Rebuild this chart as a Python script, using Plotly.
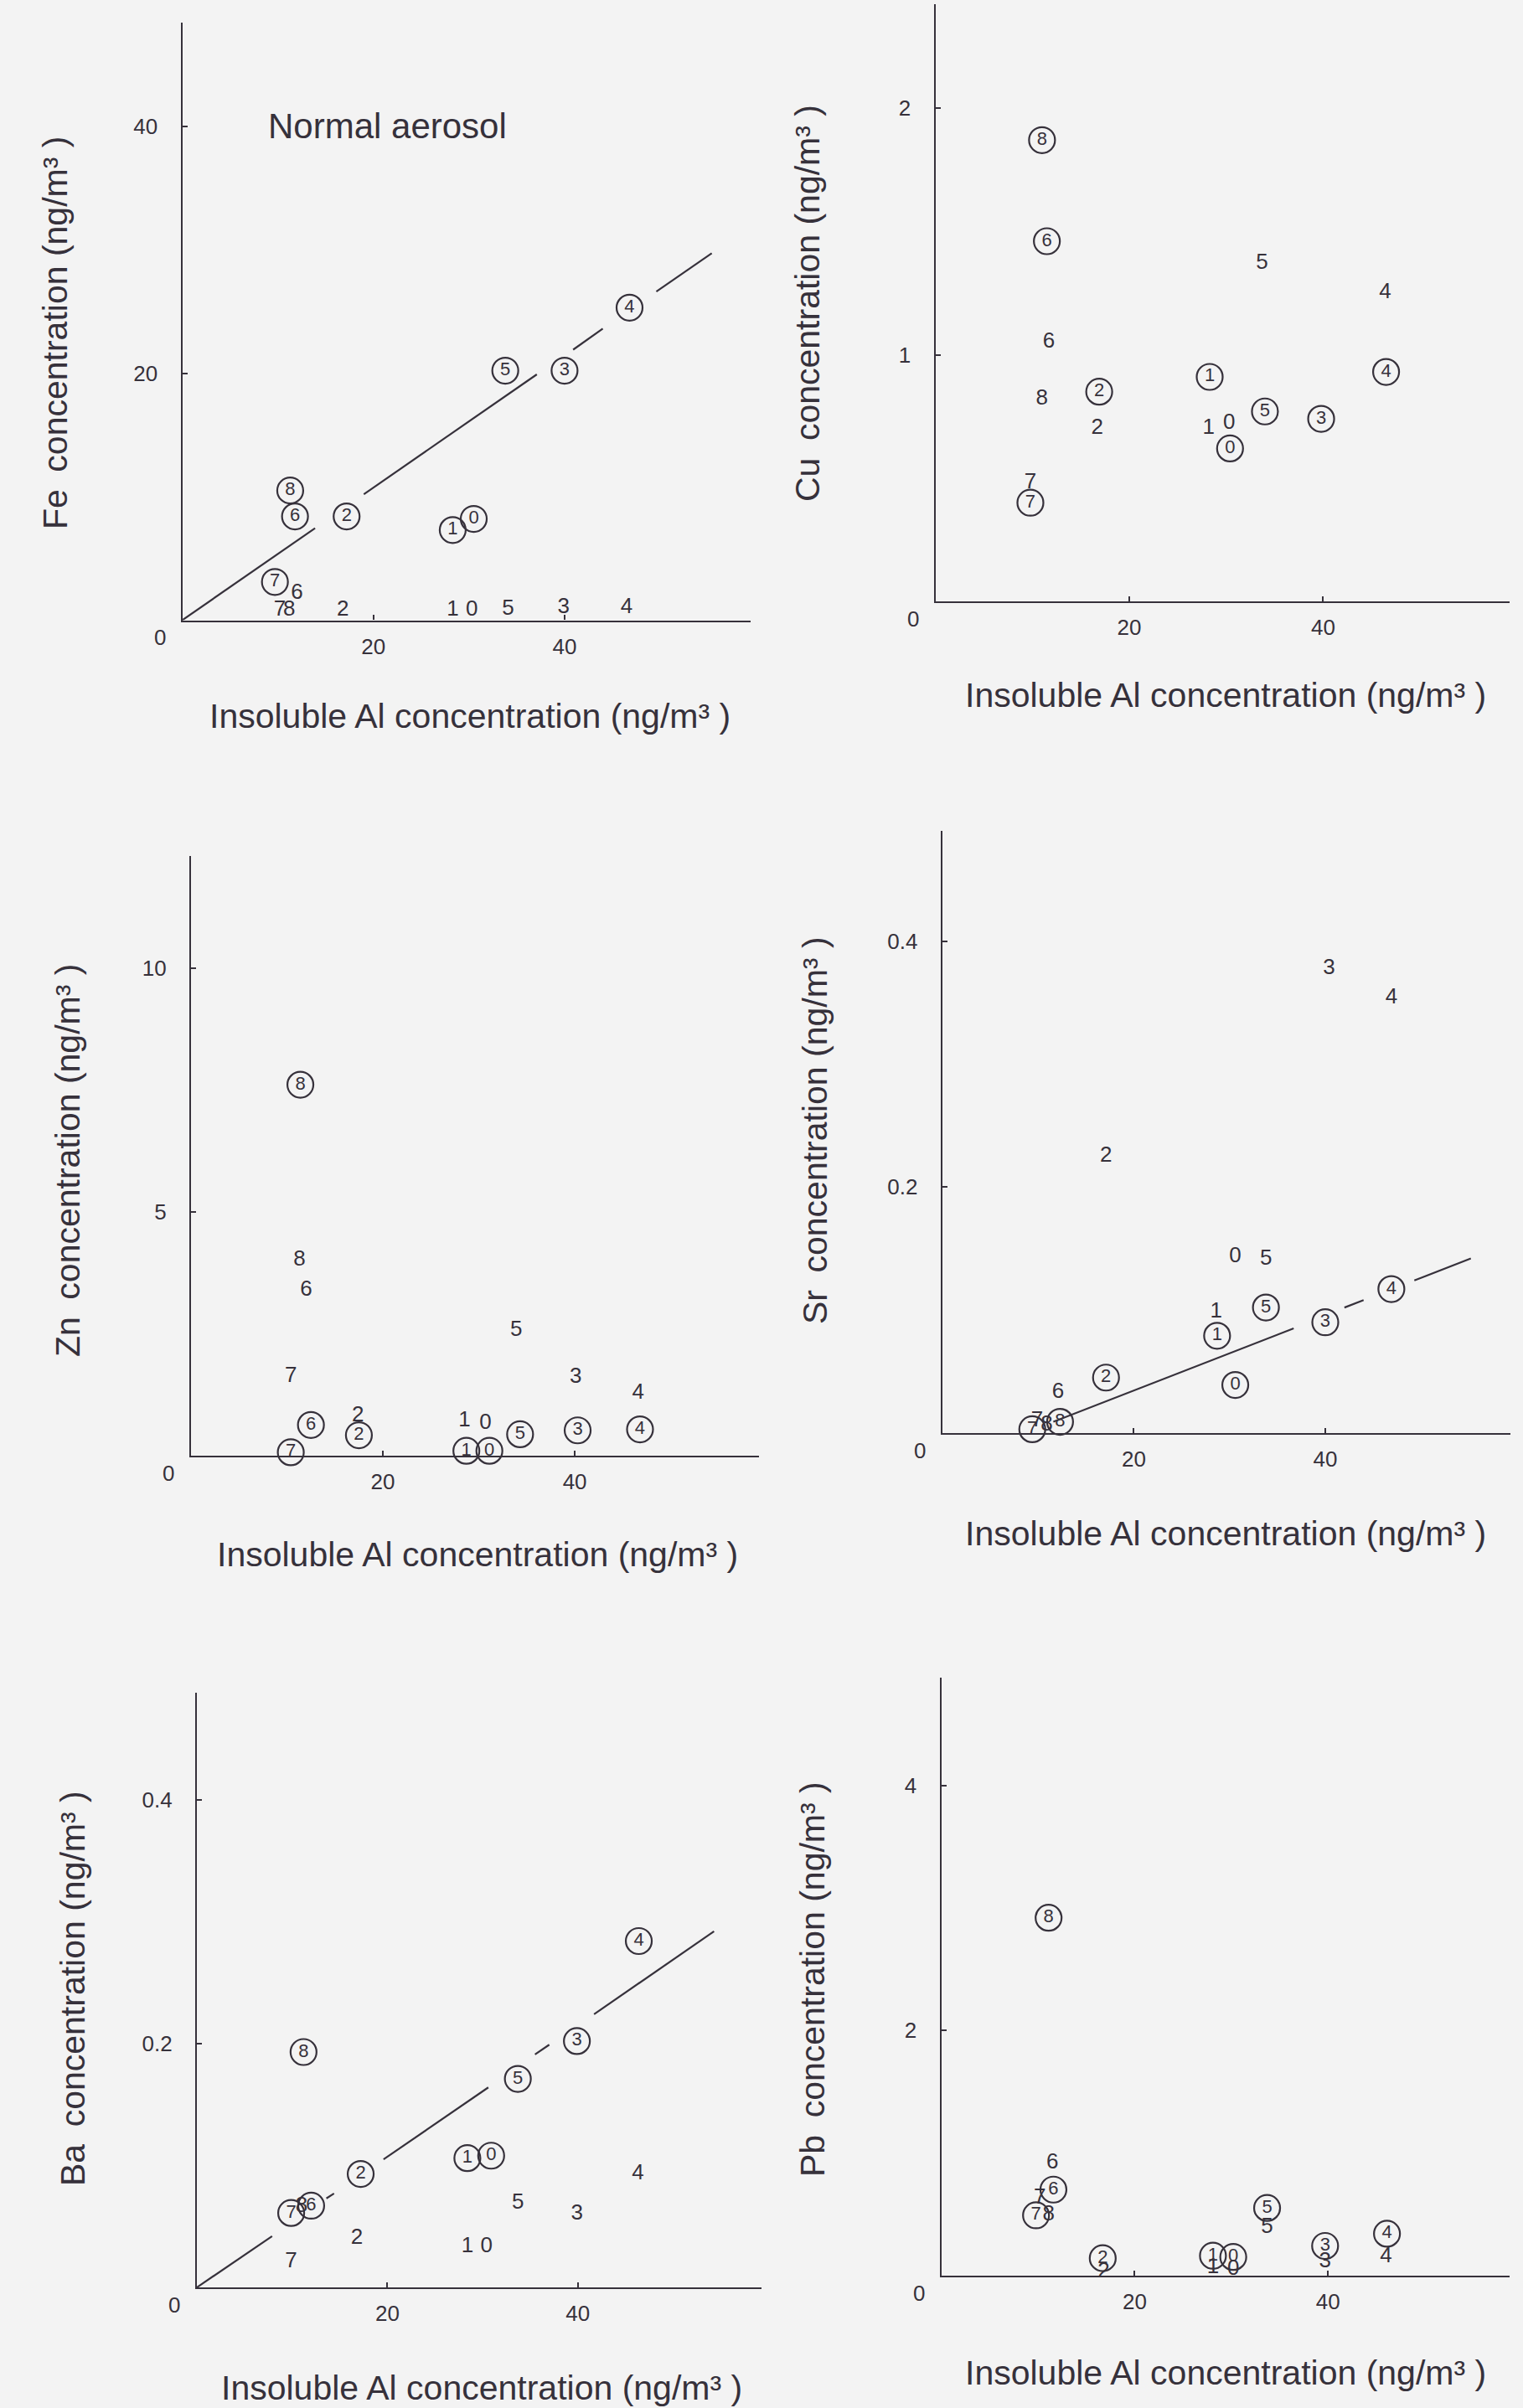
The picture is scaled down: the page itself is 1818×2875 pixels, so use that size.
import plotly.graph_objects as go

W, H = 1818, 2875
INK = "#36313b"
BG = "#f3f3f3"
FONT = "Liberation Sans"

# ---------------- data ----------------
x_tick_vals = [20, 40]
x_title = "Insoluble Al concentration (ng/m\u00b3 )"

# Fe
fe_circ_x = [9.7, 11.8, 11.3, 17.2, 28.3, 30.5, 33.8, 40.0, 46.8]
fe_circ_y = [3.1, 8.4, 10.5, 8.4, 7.3, 8.2, 20.2, 20.2, 25.3]
fe_circ_lbl = ["7", "6", "8", "2", "1", "0", "5", "3", "4"]
fe_plain_x = [12.0, 10.2, 11.2, 16.8, 28.3, 30.3, 34.1, 39.9, 46.5]
fe_plain_y = [2.2, 0.8, 0.8, 0.8, 0.8, 0.8, 0.9, 1.0, 1.0]
fe_plain_lbl = ["6", "7", "8", "2", "1", "0", "5", "3", "4"]
fe_fit_x = [0, 13.9, None, 19.0, 37.1, None, 40.9, 44.0, None, 49.6, 55.4]
fe_fit_y = [0, 7.45, None, 10.2, 19.9, None, 21.9, 23.6, None, 26.6, 29.7]
fe_yticks = [20, 40]

# Cu
cu_circ_x = [11.0, 11.5, 16.9, 28.3, 34.0, 39.8, 46.5, 30.4, 9.8]
cu_circ_y = [1.87, 1.46, 0.85, 0.91, 0.77, 0.74, 0.93, 0.62, 0.40]
cu_circ_lbl = ["8", "6", "2", "1", "5", "3", "4", "0", "7"]
cu_plain_x = [33.7, 46.4, 11.7, 11.0, 16.7, 28.2, 30.3, 9.8]
cu_plain_y = [1.37, 1.25, 1.05, 0.82, 0.70, 0.70, 0.72, 0.48]
cu_plain_lbl = ["5", "4", "6", "8", "2", "1", "0", "7"]
cu_yticks = [1, 2]

# Zn
zn_circ_x = [11.4, 12.5, 17.5, 10.4, 28.7, 31.1, 34.3, 40.3, 46.8]
zn_circ_y = [7.61, 0.63, 0.42, 0.07, 0.1, 0.1, 0.44, 0.52, 0.54]
zn_circ_lbl = ["8", "6", "2", "7", "1", "0", "5", "3", "4"]
zn_plain_x = [11.3, 12.0, 33.9, 10.4, 40.1, 46.6, 17.4, 28.5, 30.7]
zn_plain_y = [4.02, 3.40, 2.57, 1.63, 1.60, 1.28, 0.81, 0.71, 0.66]
zn_plain_lbl = ["8", "6", "5", "7", "3", "4", "2", "1", "0"]
zn_yticks = [5, 10]

# Sr
sr_circ_x = [9.4, 12.3, 17.1, 28.7, 30.6, 33.8, 40.0, 46.9]
sr_circ_y = [0.003, 0.009, 0.045, 0.079, 0.039, 0.102, 0.090, 0.117]
sr_circ_lbl = ["7", "8", "2", "1", "0", "5", "3", "4"]
sr_plain_x = [40.4, 46.9, 17.1, 30.6, 33.8, 28.6, 12.1, 9.9, 10.9]
sr_plain_y = [0.378, 0.354, 0.225, 0.143, 0.141, 0.098, 0.033, 0.010, 0.006]
sr_plain_lbl = ["3", "4", "2", "0", "5", "1", "6", "7", "8"]
sr_fit_x = [11.6, 36.7, None, 42.0, 44.0, None, 49.3, 55.2]
sr_fit_y = [0.009, 0.085, None, 0.102, 0.108, None, 0.124, 0.142]
sr_yticks = [0.2, 0.4]

# Ba
ba_circ_x = [11.2, 46.4, 39.9, 33.7, 17.2, 28.4, 30.9, 9.9, 12.0]
ba_circ_y = [0.193, 0.284, 0.202, 0.171, 0.093, 0.106, 0.108, 0.061, 0.067]
ba_circ_lbl = ["8", "4", "3", "5", "2", "1", "0", "7", "6"]
ba_plain_x = [46.3, 33.7, 39.9, 16.8, 28.4, 30.4, 9.9, 11.0]
ba_plain_y = [0.093, 0.069, 0.060, 0.040, 0.033, 0.033, 0.021, 0.066]
ba_plain_lbl = ["4", "5", "3", "2", "1", "0", "7", "8"]
ba_fit_x = [0, 7.9, None, 13.6, 14.4, None, 19.6, 30.6, None, 35.5, 37.0, None, 41.7, 54.3]
ba_fit_y = [0, 0.042, None, 0.073, 0.077, None, 0.105, 0.164, None, 0.191, 0.199, None, 0.224, 0.292]
ba_yticks = [0.2, 0.4]

# Pb
pb_circ_x = [11.1, 11.6, 9.8, 33.7, 46.1, 39.7, 16.7, 28.1, 30.2]
pb_circ_y = [2.92, 0.70, 0.49, 0.55, 0.34, 0.24, 0.14, 0.16, 0.15]
pb_circ_lbl = ["8", "6", "7", "5", "4", "3", "2", "1", "0"]
pb_plain_x = [11.5, 10.2, 11.1, 33.7, 46.0, 39.7, 16.8, 28.1, 30.2]
pb_plain_y = [0.92, 0.63, 0.49, 0.39, 0.15, 0.11, 0.03, 0.06, 0.05]
pb_plain_lbl = ["6", "7", "8", "5", "4", "3", "2", "1", "0"]
pb_yticks = [2, 4]

# ---------------- layout geometry (pixels on page) ----------------
panels = [
    dict(el="Fe", box=(217.5, 896.4, 26.6, 740.5), xmax=59.5, ymax=48.4,
         yt=fe_yticks, ytt=["20", "40"],
         circ=(fe_circ_x, fe_circ_y, fe_circ_lbl), plain=(fe_plain_x, fe_plain_y, fe_plain_lbl),
         fit=(fe_fit_x, fe_fit_y), ytitle_pos=(66, 398), xtitle_pos=(561, 855)),
    dict(el="Cu", box=(1116.6, 1801.5, 5.3, 718.0), xmax=59.2, ymax=2.42,
         yt=cu_yticks, ytt=["1", "2"],
         circ=(cu_circ_x, cu_circ_y, cu_circ_lbl), plain=(cu_plain_x, cu_plain_y, cu_plain_lbl),
         fit=None, ytitle_pos=(964, 362), xtitle_pos=(1463, 830)),
    dict(el="Zn", box=(228.0, 906.0, 1022.1, 1738.0), xmax=59.2, ymax=12.3,
         yt=zn_yticks, ytt=["5", "10"],
         circ=(zn_circ_x, zn_circ_y, zn_circ_lbl), plain=(zn_plain_x, zn_plain_y, zn_plain_lbl),
         fit=None, ytitle_pos=(81, 1386), xtitle_pos=(570, 1856)),
    dict(el="Sr", box=(1124.8, 1802.6, 991.7, 1710.8), xmax=59.3, ymax=0.49,
         yt=sr_yticks, ytt=["0.2", "0.4"],
         circ=(sr_circ_x, sr_circ_y, sr_circ_lbl), plain=(sr_plain_x, sr_plain_y, sr_plain_lbl),
         fit=(sr_fit_x, sr_fit_y), ytitle_pos=(973, 1350), xtitle_pos=(1463, 1831)),
    dict(el="Ba", box=(235.0, 909.2, 2020.5, 2731.0), xmax=59.3, ymax=0.488,
         yt=ba_yticks, ytt=["0.2", "0.4"],
         circ=(ba_circ_x, ba_circ_y, ba_circ_lbl), plain=(ba_plain_x, ba_plain_y, ba_plain_lbl),
         fit=(ba_fit_x, ba_fit_y), ytitle_pos=(87, 2374), xtitle_pos=(575, 2851)),
    dict(el="Pb", box=(1123.6, 1802.2, 2003.1, 2716.6), xmax=58.8, ymax=4.88,
         yt=pb_yticks, ytt=["2", "4"],
         circ=(pb_circ_x, pb_circ_y, pb_circ_lbl), plain=(pb_plain_x, pb_plain_y, pb_plain_lbl),
         fit=None, ytitle_pos=(970, 2363), xtitle_pos=(1463, 2833)),
]

fig = go.Figure()
layout = dict(
    width=W, height=H, margin=dict(l=0, r=0, t=0, b=0),
    paper_bgcolor=BG, plot_bgcolor="rgba(0,0,0,0)",
    showlegend=False, font=dict(family=FONT, color=INK),
)
annotations = []

for i, p in enumerate(panels, start=1):
    xs = "" if i == 1 else str(i)
    l, r, t, b = p["box"]
    axis_common = dict(showline=True, linecolor=INK, linewidth=2.2, ticks="inside",
                       ticklen=6, tickwidth=2, tickcolor=INK, showgrid=False,
                       zeroline=False, tickfont=dict(family=FONT, size=26, color=INK),
                       fixedrange=True)
    layout["xaxis" + xs] = dict(domain=[l / W, r / W], range=[0, p["xmax"]],
                                anchor="y" + xs, tickvals=x_tick_vals,
                                ticktext=[str(v) for v in x_tick_vals],
                                ticklabelstandoff=7, **axis_common)
    layout["yaxis" + xs] = dict(domain=[1 - b / H, 1 - t / H], range=[0, p["ymax"]],
                                anchor="x" + xs, tickvals=p["yt"], ticktext=p["ytt"],
                                ticklabelstandoff=22, **axis_common)

    if p["fit"] is not None:
        fig.add_trace(go.Scatter(x=p["fit"][0], y=p["fit"][1], mode="lines",
                                 line=dict(color=INK, width=2.2), xaxis="x" + xs, yaxis="y" + xs,
                                 connectgaps=False, hoverinfo="skip"))
    cx, cy, cl = p["circ"]
    fig.add_trace(go.Scatter(x=cx, y=cy, text=cl, mode="markers+text",
                             marker=dict(symbol="circle-open", size=31, color=INK,
                                         line=dict(color=INK, width=2.2)),
                             textposition="middle center",
                             textfont=dict(family=FONT, size=22, color=INK),
                             cliponaxis=False, xaxis="x" + xs, yaxis="y" + xs))
    px_, py_, pl_ = p["plain"]
    fig.add_trace(go.Scatter(x=px_, y=py_, text=pl_, mode="text",
                             textposition="middle center",
                             textfont=dict(family=FONT, size=26, color=INK),
                             cliponaxis=False, xaxis="x" + xs, yaxis="y" + xs))

    # origin "0"
    annotations.append(dict(x=0, y=0, xref="x" + xs, yref="y" + xs, text="0",
                            showarrow=False, xshift=-27, yshift=-21,
                            font=dict(family=FONT, size=26, color=INK)))
    # axis titles
    yx, yy = p["ytitle_pos"]
    annotations.append(dict(x=yx / W, y=1 - yy / H, xref="paper", yref="paper",
                            text=p["el"] + "\u2002concentration (ng/m\u00b3 )", textangle=-90,
                            showarrow=False, xanchor="center", yanchor="middle",
                            font=dict(family=FONT, size=41, color=INK)))
    xx, xy = p["xtitle_pos"]
    annotations.append(dict(x=xx / W, y=1 - xy / H, xref="paper", yref="paper",
                            text=x_title, showarrow=False, xanchor="center", yanchor="middle",
                            font=dict(family=FONT, size=41, color=INK)))

annotations.append(dict(x=8.8, y=40, xref="x", yref="y", text="Normal aerosol",
                        showarrow=False, xanchor="left", yanchor="middle",
                        font=dict(family=FONT, size=42, color=INK)))

layout["annotations"] = annotations
fig.update_layout(**layout)
fig.write_html("out.html")
